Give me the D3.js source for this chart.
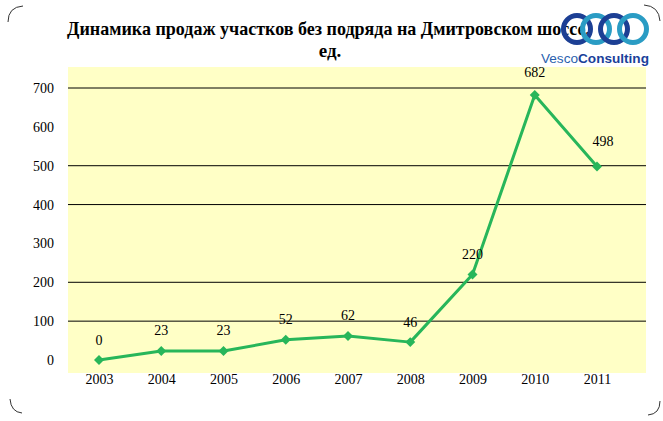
<!DOCTYPE html>
<html><head><meta charset="utf-8">
<script src="https://cdn.jsdelivr.net/npm/d3@7"></script>
<style>body{margin:0;background:#fff}svg{display:block}
svg text{font-family:'Liberation Serif','Times New Roman',serif}</style>
</head><body>
<script>
const years = ["2003","2004","2005","2006","2007","2008","2009","2010","2011"];
const sales = [0,23,23,52,62,46,220,682,498];
const yTicks = [0,100,200,300,400,500,600,700];
const gridTicks = [100,200,400,500,700];
const titleLines = ["Динамика продаж участков без подряда на Дмитровском шоссе,","ед."];

const W=663,H=421;
const SERIF="'Liberation Serif','Times New Roman',serif";
const svg=d3.select("body").append("svg").attr("width",W).attr("height",H);
svg.append("rect").attr("width",W).attr("height",H).attr("fill","#fff");

const corners=["M8,22 Q8,7 23,6","M644,5 Q659,6 660,21","M10,399 Q11,412 22,413","M660,401 Q660,414 648,415"];
corners.forEach(d=>svg.append("path").attr("d",d).attr("fill","none").attr("stroke","#333").attr("stroke-width",1));

const x=d3.scalePoint().domain(years).range([99,597]);
const y=d3.scaleLinear().domain([0,700]).range([360,88]);

svg.append("rect").attr("x",68).attr("y",67).attr("width",578).attr("height",306).attr("fill","#ffffc6");

svg.append("g").selectAll("line").data(gridTicks).join("line")
 .attr("x1",68).attr("x2",646).attr("y1",d=>y(d)).attr("y2",d=>y(d))
 .attr("stroke","#000").attr("stroke-width",1);

const ya=svg.append("g").attr("transform","translate(60,0)")
 .call(d3.axisLeft(y).tickValues(yTicks).tickSize(0).tickPadding(6));
ya.attr("font-family",null).attr("font-size",null);
ya.select(".domain").remove();
ya.selectAll("text").style("font-family",SERIF).style("font-size","14px").attr("fill","#000");

const xa=svg.append("g").attr("transform","translate(0,370)")
 .call(d3.axisBottom(x).tickSize(0).tickPadding(4));
xa.attr("font-family",null).attr("font-size",null);
xa.select(".domain").remove();
xa.selectAll("text").style("font-family",SERIF).style("font-size","14px").attr("fill","#000");

const line=d3.line().x((d,i)=>x(years[i])).y(d=>y(d));
svg.append("path").datum(sales).attr("d",line).attr("fill","none")
 .attr("stroke","#27b65a").attr("stroke-width",3).attr("stroke-linejoin","round");
svg.append("g").selectAll("path").data(sales).join("path")
 .attr("d",d3.symbol(d3.symbolSquare,50)())
 .attr("transform",(d,i)=>`translate(${x(years[i])},${y(d)}) rotate(45)`)
 .attr("fill","#27b65a");

const dx=[0,0,0,0,0,0,0,0,6];
const dy=[-15,-16,-16,-16,-16,-15,-16,-18,-20];
svg.append("g").selectAll("text").data(sales).join("text")
 .attr("x",(d,i)=>x(years[i])+dx[i]).attr("y",(d,i)=>y(d)+dy[i])
 .attr("text-anchor","middle").style("font-family",SERIF).style("font-size","14px")
 .text(d=>d);

svg.append("text").attr("x",67).attr("y",35).style("font-family",SERIF).attr("font-weight","bold")
 .style("font-size","19px").attr("textLength",523).attr("lengthAdjust","spacingAndGlyphs").text(titleLines[0]);
svg.append("text").attr("x",330).attr("y",57).attr("text-anchor","middle").style("font-family",SERIF).attr("font-weight","bold")
 .style("font-size","19px").text(titleLines[1]);

const logo=svg.append("g");
const rings=[[577,"#1c3f94"],[596,"#2a9cc4"],[614,"#1c3f94"],[633,"#2a9cc4"]];
rings.forEach(([cx,c])=>logo.append("circle").attr("cx",cx).attr("cy",29).attr("r",13.5)
 .attr("fill","none").attr("stroke",c).attr("stroke-width",5));
const lt=logo.append("text").attr("x",541).attr("y",63).style("font-family","'Liberation Sans',Arial,sans-serif").style("font-size","13px").attr("fill","#2b5fae")
 .attr("textLength",108).attr("lengthAdjust","spacingAndGlyphs");
lt.append("tspan").text("Vesco");
lt.append("tspan").attr("font-weight","bold").attr("fill","#1a3f9a").text("Consulting");
</script>
</body></html>
